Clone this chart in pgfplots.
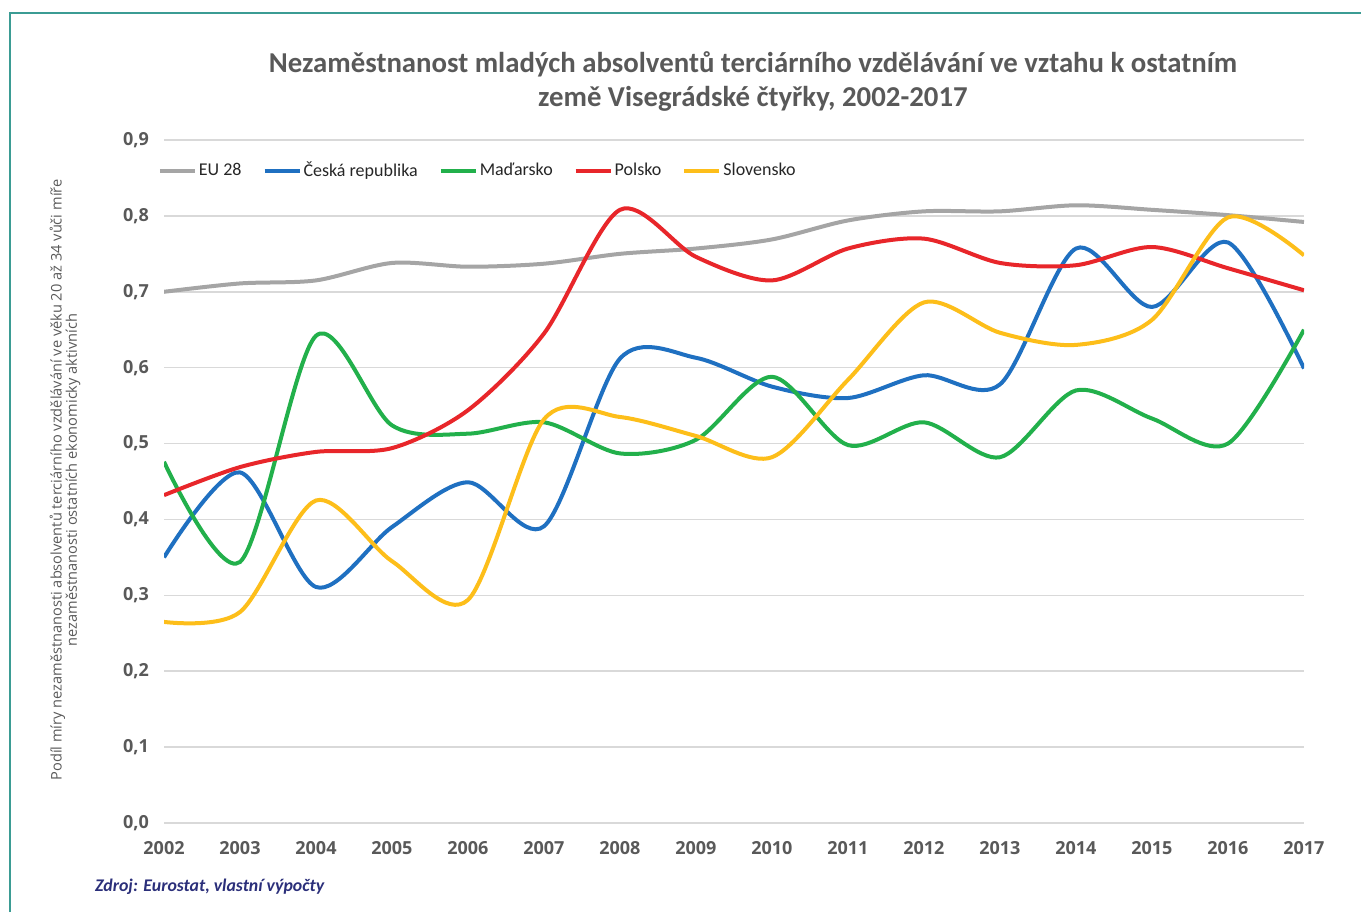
\documentclass[border=0pt]{standalone}
\usepackage{fontspec}
\setmainfont{Carlito}
\newfontfamily\osans{Open Sans}
\usepackage{pgfplots}
\usepackage{pgfplotstable}
\pgfplotsset{compat=1.18}
\definecolor{cEU}{HTML}{A5A5A5}
\definecolor{cCZ}{HTML}{1F70C1}
\definecolor{cHU}{HTML}{22B04B}
\definecolor{cPL}{HTML}{E8262A}
\definecolor{cSK}{HTML}{FDBE1A}
\definecolor{txt}{HTML}{595959}
\definecolor{gridc}{HTML}{D9D9D9}
\definecolor{teal}{HTML}{3B9C94}
\definecolor{navy}{HTML}{2B2F7A}
\pgfplotstableread{
year EU CZ HU PL SK
2002 0.700 0.350 0.476 0.432 0.265
2003 0.711 0.462 0.344 0.469 0.278
2004 0.715 0.311 0.642 0.489 0.425
2005 0.738 0.390 0.524 0.494 0.345
2006 0.733 0.449 0.513 0.544 0.294
2007 0.737 0.391 0.528 0.645 0.532
2008 0.750 0.612 0.487 0.808 0.535
2009 0.757 0.613 0.505 0.746 0.510
2010 0.769 0.575 0.588 0.715 0.482
2011 0.794 0.560 0.498 0.757 0.584
2012 0.806 0.590 0.528 0.770 0.686
2013 0.806 0.578 0.482 0.738 0.646
2014 0.814 0.757 0.570 0.735 0.630
2015 0.808 0.680 0.533 0.759 0.663
2016 0.801 0.765 0.500 0.731 0.798
2017 0.792 0.599 0.650 0.702 0.748
}\datatable
\begin{document}
\begin{tikzpicture}
\path[use as bounding box] (0,0) rectangle (680.5pt,456pt);
\draw[teal, line width=1.2pt] (5pt,0) -- (5pt,449.5pt) -- (680.5pt,449.5pt);
\node[align=center, font=\bfseries\fontsize{14.4}{17}\selectfont, text=txt] at (376.5pt,415pt)
  {Nezaměstnanost mladých absolventů terciárního vzdělávání ve vztahu k ostatním\\země Visegrádské čtyřky, 2002-2017};
\node[rotate=90, align=center, font=\osans\fontsize{7.3}{7.6}\selectfont, text=txt] at (32.5pt,216pt)
  {Podíl míry nezaměstnanosti absolventů terciárního vzdělávání ve věku 20 až 34 vůči míře\\nezaměstnanosti ostatních ekonomicky aktivních};
\node[anchor=west, font=\bfseries\itshape\fontsize{8.9}{10}\selectfont, text=navy] at (44pt,12.8pt)
  {Zdroj: Eurostat, vlastní výpočty};
\begin{axis}[
  at={(82pt,44.5pt)}, anchor=south west,
  scale only axis, width=570pt, height=341.5pt,
  xmin=2002, xmax=2017, ymin=0, ymax=0.9,
  xtick={2002,...,2017},
  ytick={0,0.1,...,0.9},
  axis line style={draw=none},
  major tick length=0pt,
  ymajorgrids, xmajorgrids=false, major grid style={draw=gridc, line width=0.8pt},
  /pgf/number format/assume math mode=true,
  tick label style={font=\osans\bfseries\fontsize{9}{10}\selectfont, text=txt},
  xticklabel style={yshift=-5.5pt, /pgf/number format/1000 sep={}},
  yticklabel style={xshift=-4pt, /pgf/number format/.cd, fixed, fixed zerofill, precision=1, use comma},
  legend columns=5,
  legend style={at={(-0.011,0.9545)}, anchor=west, draw=none, fill=none,
    font=\fontsize{9}{10}\selectfont, text=black!85,
    nodes={inner xsep=1pt},
    /tikz/every even column/.append style={column sep=9.5pt}},
  legend image code/.code={\draw[#1, line width=2pt] (0pt,0pt) -- (17.5pt,0pt);},
  every axis plot/.append style={line width=2pt, smooth, tension=0.5},
]
\addplot[cEU] table[x=year,y=EU]{\datatable};
\addlegendentry{EU 28}
\addplot[cCZ] table[x=year,y=CZ]{\datatable};
\addlegendentry{Česká republika}
\addplot[cHU] table[x=year,y=HU]{\datatable};
\addlegendentry{Maďarsko}
\addplot[cPL] table[x=year,y=PL]{\datatable};
\addlegendentry{Polsko}
\addplot[cSK] table[x=year,y=SK]{\datatable};
\addlegendentry{Slovensko}
\end{axis}
\end{tikzpicture}
\end{document}
